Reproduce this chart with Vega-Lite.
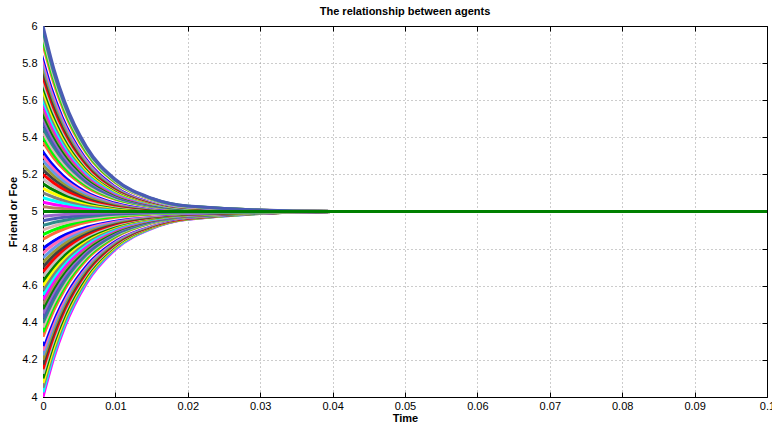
{
"$schema": "https://vega.github.io/schema/vega-lite/v6.json",
"width": 724, "height": 371,
"autosize": {"type": "none"},
"padding": {"left": 43, "top": 26, "right": 5, "bottom": 33},
"background": "white",
"title": {"text": "The relationship between agents", "fontSize": 11, "font": "Liberation Sans", "fontWeight": "bold", "color": "black", "anchor": "middle", "offset": 3},
"config": {"view": {"stroke": null}, "font": "Liberation Sans"},
"layer": [
{
"data": {"values": [
{"c":-40,"t":0,"y":4.0},{"c":-40,"t":0.0015,"y":4.212},{"c":-40,"t":0.003,"y":4.379},{"c":-40,"t":0.006,"y":4.614},{"c":-40,"t":0.01,"y":4.796},{"c":-40,"t":0.015,"y":4.908},{"c":-40,"t":0.02,"y":4.958},{"c":-40,"t":0.04,"y":5},{"c":-40,"t":0.1,"y":5},
{"c":-39,"t":0,"y":4.025},{"c":-39,"t":0.0015,"y":4.232},{"c":-39,"t":0.003,"y":4.394},{"c":-39,"t":0.006,"y":4.624},{"c":-39,"t":0.01,"y":4.801},{"c":-39,"t":0.015,"y":4.910},{"c":-39,"t":0.02,"y":4.959},{"c":-39,"t":0.04,"y":5},{"c":-39,"t":0.1,"y":5},
{"c":-38,"t":0,"y":4.05},{"c":-38,"t":0.0015,"y":4.251},{"c":-38,"t":0.003,"y":4.410},{"c":-38,"t":0.006,"y":4.633},{"c":-38,"t":0.01,"y":4.806},{"c":-38,"t":0.015,"y":4.912},{"c":-38,"t":0.02,"y":4.960},{"c":-38,"t":0.04,"y":5},{"c":-38,"t":0.1,"y":5},
{"c":-37,"t":0,"y":4.075},{"c":-37,"t":0.0015,"y":4.271},{"c":-37,"t":0.003,"y":4.426},{"c":-37,"t":0.006,"y":4.643},{"c":-37,"t":0.01,"y":4.811},{"c":-37,"t":0.015,"y":4.914},{"c":-37,"t":0.02,"y":4.961},{"c":-37,"t":0.04,"y":5},{"c":-37,"t":0.1,"y":5},
{"c":-36,"t":0,"y":4.1},{"c":-36,"t":0.0015,"y":4.291},{"c":-36,"t":0.003,"y":4.441},{"c":-36,"t":0.006,"y":4.653},{"c":-36,"t":0.01,"y":4.816},{"c":-36,"t":0.015,"y":4.917},{"c":-36,"t":0.02,"y":4.962},{"c":-36,"t":0.04,"y":5},{"c":-36,"t":0.1,"y":5},
{"c":-35,"t":0,"y":4.125},{"c":-35,"t":0.0015,"y":4.310},{"c":-35,"t":0.003,"y":4.457},{"c":-35,"t":0.006,"y":4.662},{"c":-35,"t":0.01,"y":4.821},{"c":-35,"t":0.015,"y":4.919},{"c":-35,"t":0.02,"y":4.963},{"c":-35,"t":0.04,"y":5},{"c":-35,"t":0.1,"y":5},
{"c":-34,"t":0,"y":4.15},{"c":-34,"t":0.0015,"y":4.330},{"c":-34,"t":0.003,"y":4.472},{"c":-34,"t":0.006,"y":4.672},{"c":-34,"t":0.01,"y":4.826},{"c":-34,"t":0.015,"y":4.921},{"c":-34,"t":0.02,"y":4.964},{"c":-34,"t":0.04,"y":5},{"c":-34,"t":0.1,"y":5},
{"c":-33,"t":0,"y":4.175},{"c":-33,"t":0.0015,"y":4.350},{"c":-33,"t":0.003,"y":4.488},{"c":-33,"t":0.006,"y":4.682},{"c":-33,"t":0.01,"y":4.831},{"c":-33,"t":0.015,"y":4.924},{"c":-33,"t":0.02,"y":4.966},{"c":-33,"t":0.04,"y":5},{"c":-33,"t":0.1,"y":5},
{"c":-32,"t":0,"y":4.2},{"c":-32,"t":0.0015,"y":4.370},{"c":-32,"t":0.003,"y":4.503},{"c":-32,"t":0.006,"y":4.691},{"c":-32,"t":0.01,"y":4.836},{"c":-32,"t":0.015,"y":4.926},{"c":-32,"t":0.02,"y":4.967},{"c":-32,"t":0.04,"y":5},{"c":-32,"t":0.1,"y":5},
{"c":-31,"t":0,"y":4.225},{"c":-31,"t":0.0015,"y":4.389},{"c":-31,"t":0.003,"y":4.519},{"c":-31,"t":0.006,"y":4.701},{"c":-31,"t":0.01,"y":4.842},{"c":-31,"t":0.015,"y":4.928},{"c":-31,"t":0.02,"y":4.968},{"c":-31,"t":0.04,"y":5},{"c":-31,"t":0.1,"y":5},
{"c":-30,"t":0,"y":4.25},{"c":-30,"t":0.0015,"y":4.409},{"c":-30,"t":0.003,"y":4.534},{"c":-30,"t":0.006,"y":4.711},{"c":-30,"t":0.01,"y":4.847},{"c":-30,"t":0.015,"y":4.931},{"c":-30,"t":0.02,"y":4.969},{"c":-30,"t":0.04,"y":5},{"c":-30,"t":0.1,"y":5},
{"c":-29,"t":0,"y":4.275},{"c":-29,"t":0.0015,"y":4.429},{"c":-29,"t":0.003,"y":4.550},{"c":-29,"t":0.006,"y":4.720},{"c":-29,"t":0.01,"y":4.852},{"c":-29,"t":0.015,"y":4.933},{"c":-29,"t":0.02,"y":4.970},{"c":-29,"t":0.04,"y":5},{"c":-29,"t":0.1,"y":5},
{"c":-28,"t":0,"y":4.3},{"c":-28,"t":0.0015,"y":4.448},{"c":-28,"t":0.003,"y":4.565},{"c":-28,"t":0.006,"y":4.730},{"c":-28,"t":0.01,"y":4.857},{"c":-28,"t":0.015,"y":4.935},{"c":-28,"t":0.02,"y":4.971},{"c":-28,"t":0.04,"y":5},{"c":-28,"t":0.1,"y":5},
{"c":-27,"t":0,"y":4.325},{"c":-27,"t":0.0015,"y":4.468},{"c":-27,"t":0.003,"y":4.581},{"c":-27,"t":0.006,"y":4.740},{"c":-27,"t":0.01,"y":4.862},{"c":-27,"t":0.015,"y":4.938},{"c":-27,"t":0.02,"y":4.972},{"c":-27,"t":0.04,"y":5},{"c":-27,"t":0.1,"y":5},
{"c":-26,"t":0,"y":4.35},{"c":-26,"t":0.0015,"y":4.488},{"c":-26,"t":0.003,"y":4.596},{"c":-26,"t":0.006,"y":4.749},{"c":-26,"t":0.01,"y":4.867},{"c":-26,"t":0.015,"y":4.940},{"c":-26,"t":0.02,"y":4.973},{"c":-26,"t":0.04,"y":5},{"c":-26,"t":0.1,"y":5},
{"c":-25,"t":0,"y":4.375},{"c":-25,"t":0.0015,"y":4.507},{"c":-25,"t":0.003,"y":4.612},{"c":-25,"t":0.006,"y":4.759},{"c":-25,"t":0.01,"y":4.872},{"c":-25,"t":0.015,"y":4.942},{"c":-25,"t":0.02,"y":4.974},{"c":-25,"t":0.04,"y":5},{"c":-25,"t":0.1,"y":5},
{"c":-24,"t":0,"y":4.4},{"c":-24,"t":0.0015,"y":4.527},{"c":-24,"t":0.003,"y":4.627},{"c":-24,"t":0.006,"y":4.769},{"c":-24,"t":0.01,"y":4.877},{"c":-24,"t":0.015,"y":4.945},{"c":-24,"t":0.02,"y":4.975},{"c":-24,"t":0.04,"y":5},{"c":-24,"t":0.1,"y":5},
{"c":-23,"t":0,"y":4.425},{"c":-23,"t":0.0015,"y":4.547},{"c":-23,"t":0.003,"y":4.643},{"c":-23,"t":0.006,"y":4.778},{"c":-23,"t":0.01,"y":4.882},{"c":-23,"t":0.015,"y":4.947},{"c":-23,"t":0.02,"y":4.976},{"c":-23,"t":0.04,"y":5},{"c":-23,"t":0.1,"y":5},
{"c":-22,"t":0,"y":4.45},{"c":-22,"t":0.0015,"y":4.567},{"c":-22,"t":0.003,"y":4.658},{"c":-22,"t":0.006,"y":4.788},{"c":-22,"t":0.01,"y":4.888},{"c":-22,"t":0.015,"y":4.949},{"c":-22,"t":0.02,"y":4.977},{"c":-22,"t":0.04,"y":5},{"c":-22,"t":0.1,"y":5},
{"c":-21,"t":0,"y":4.475},{"c":-21,"t":0.0015,"y":4.586},{"c":-21,"t":0.003,"y":4.674},{"c":-21,"t":0.006,"y":4.797},{"c":-21,"t":0.01,"y":4.893},{"c":-21,"t":0.015,"y":4.951},{"c":-21,"t":0.02,"y":4.978},{"c":-21,"t":0.04,"y":5},{"c":-21,"t":0.1,"y":5},
{"c":-20,"t":0,"y":4.5},{"c":-20,"t":0.0015,"y":4.606},{"c":-20,"t":0.003,"y":4.689},{"c":-20,"t":0.006,"y":4.807},{"c":-20,"t":0.01,"y":4.898},{"c":-20,"t":0.015,"y":4.954},{"c":-20,"t":0.02,"y":4.979},{"c":-20,"t":0.04,"y":5},{"c":-20,"t":0.1,"y":5},
{"c":-19,"t":0,"y":4.525},{"c":-19,"t":0.0015,"y":4.626},{"c":-19,"t":0.003,"y":4.705},{"c":-19,"t":0.006,"y":4.817},{"c":-19,"t":0.01,"y":4.903},{"c":-19,"t":0.015,"y":4.956},{"c":-19,"t":0.02,"y":4.980},{"c":-19,"t":0.04,"y":5},{"c":-19,"t":0.1,"y":5},
{"c":-18,"t":0,"y":4.55},{"c":-18,"t":0.0015,"y":4.645},{"c":-18,"t":0.003,"y":4.721},{"c":-18,"t":0.006,"y":4.826},{"c":-18,"t":0.01,"y":4.908},{"c":-18,"t":0.015,"y":4.958},{"c":-18,"t":0.02,"y":4.981},{"c":-18,"t":0.04,"y":5},{"c":-18,"t":0.1,"y":5},
{"c":-17,"t":0,"y":4.575},{"c":-17,"t":0.0015,"y":4.665},{"c":-17,"t":0.003,"y":4.736},{"c":-17,"t":0.006,"y":4.836},{"c":-17,"t":0.01,"y":4.913},{"c":-17,"t":0.015,"y":4.961},{"c":-17,"t":0.02,"y":4.982},{"c":-17,"t":0.04,"y":5},{"c":-17,"t":0.1,"y":5},
{"c":-16,"t":0,"y":4.6},{"c":-16,"t":0.0015,"y":4.685},{"c":-16,"t":0.003,"y":4.752},{"c":-16,"t":0.006,"y":4.846},{"c":-16,"t":0.01,"y":4.918},{"c":-16,"t":0.015,"y":4.963},{"c":-16,"t":0.02,"y":4.983},{"c":-16,"t":0.04,"y":5},{"c":-16,"t":0.1,"y":5},
{"c":-15,"t":0,"y":4.625},{"c":-15,"t":0.0015,"y":4.704},{"c":-15,"t":0.003,"y":4.767},{"c":-15,"t":0.006,"y":4.855},{"c":-15,"t":0.01,"y":4.923},{"c":-15,"t":0.015,"y":4.965},{"c":-15,"t":0.02,"y":4.984},{"c":-15,"t":0.04,"y":5},{"c":-15,"t":0.1,"y":5},
{"c":-14,"t":0,"y":4.65},{"c":-14,"t":0.0015,"y":4.724},{"c":-14,"t":0.003,"y":4.783},{"c":-14,"t":0.006,"y":4.865},{"c":-14,"t":0.01,"y":4.928},{"c":-14,"t":0.015,"y":4.968},{"c":-14,"t":0.02,"y":4.985},{"c":-14,"t":0.04,"y":5},{"c":-14,"t":0.1,"y":5},
{"c":-13,"t":0,"y":4.675},{"c":-13,"t":0.0015,"y":4.744},{"c":-13,"t":0.003,"y":4.798},{"c":-13,"t":0.006,"y":4.875},{"c":-13,"t":0.01,"y":4.934},{"c":-13,"t":0.015,"y":4.970},{"c":-13,"t":0.02,"y":4.986},{"c":-13,"t":0.04,"y":5},{"c":-13,"t":0.1,"y":5},
{"c":-12,"t":0,"y":4.7},{"c":-12,"t":0.0015,"y":4.764},{"c":-12,"t":0.003,"y":4.814},{"c":-12,"t":0.006,"y":4.884},{"c":-12,"t":0.01,"y":4.939},{"c":-12,"t":0.015,"y":4.972},{"c":-12,"t":0.02,"y":4.987},{"c":-12,"t":0.04,"y":5},{"c":-12,"t":0.1,"y":5},
{"c":-11,"t":0,"y":4.725},{"c":-11,"t":0.0015,"y":4.783},{"c":-11,"t":0.003,"y":4.829},{"c":-11,"t":0.006,"y":4.894},{"c":-11,"t":0.01,"y":4.944},{"c":-11,"t":0.015,"y":4.975},{"c":-11,"t":0.02,"y":4.989},{"c":-11,"t":0.04,"y":5},{"c":-11,"t":0.1,"y":5},
{"c":-10,"t":0,"y":4.75},{"c":-10,"t":0.0015,"y":4.803},{"c":-10,"t":0.003,"y":4.845},{"c":-10,"t":0.006,"y":4.904},{"c":-10,"t":0.01,"y":4.949},{"c":-10,"t":0.015,"y":4.977},{"c":-10,"t":0.02,"y":4.990},{"c":-10,"t":0.04,"y":5},{"c":-10,"t":0.1,"y":5},
{"c":-9,"t":0,"y":4.775},{"c":-9,"t":0.0015,"y":4.823},{"c":-9,"t":0.003,"y":4.860},{"c":-9,"t":0.006,"y":4.913},{"c":-9,"t":0.01,"y":4.954},{"c":-9,"t":0.015,"y":4.979},{"c":-9,"t":0.02,"y":4.991},{"c":-9,"t":0.04,"y":5},{"c":-9,"t":0.1,"y":5},
{"c":-8,"t":0,"y":4.8},{"c":-8,"t":0.0015,"y":4.842},{"c":-8,"t":0.003,"y":4.876},{"c":-8,"t":0.006,"y":4.923},{"c":-8,"t":0.01,"y":4.959},{"c":-8,"t":0.015,"y":4.982},{"c":-8,"t":0.02,"y":4.992},{"c":-8,"t":0.04,"y":5},{"c":-8,"t":0.1,"y":5},
{"c":-7,"t":0,"y":4.825},{"c":-7,"t":0.0015,"y":4.862},{"c":-7,"t":0.003,"y":4.891},{"c":-7,"t":0.006,"y":4.932},{"c":-7,"t":0.01,"y":4.964},{"c":-7,"t":0.015,"y":4.984},{"c":-7,"t":0.02,"y":4.993},{"c":-7,"t":0.04,"y":5},{"c":-7,"t":0.1,"y":5},
{"c":-6,"t":0,"y":4.85},{"c":-6,"t":0.0015,"y":4.882},{"c":-6,"t":0.003,"y":4.907},{"c":-6,"t":0.006,"y":4.942},{"c":-6,"t":0.01,"y":4.969},{"c":-6,"t":0.015,"y":4.986},{"c":-6,"t":0.02,"y":4.994},{"c":-6,"t":0.04,"y":5},{"c":-6,"t":0.1,"y":5},
{"c":-5,"t":0,"y":4.875},{"c":-5,"t":0.0015,"y":4.901},{"c":-5,"t":0.003,"y":4.922},{"c":-5,"t":0.006,"y":4.952},{"c":-5,"t":0.01,"y":4.974},{"c":-5,"t":0.015,"y":4.988},{"c":-5,"t":0.02,"y":4.995},{"c":-5,"t":0.04,"y":5},{"c":-5,"t":0.1,"y":5},
{"c":-4,"t":0,"y":4.9},{"c":-4,"t":0.0015,"y":4.921},{"c":-4,"t":0.003,"y":4.938},{"c":-4,"t":0.006,"y":4.961},{"c":-4,"t":0.01,"y":4.980},{"c":-4,"t":0.015,"y":4.991},{"c":-4,"t":0.02,"y":4.996},{"c":-4,"t":0.04,"y":5},{"c":-4,"t":0.1,"y":5},
{"c":-3,"t":0,"y":4.925},{"c":-3,"t":0.0015,"y":4.941},{"c":-3,"t":0.003,"y":4.953},{"c":-3,"t":0.006,"y":4.971},{"c":-3,"t":0.01,"y":4.985},{"c":-3,"t":0.015,"y":4.993},{"c":-3,"t":0.02,"y":4.997},{"c":-3,"t":0.04,"y":5},{"c":-3,"t":0.1,"y":5},
{"c":-2,"t":0,"y":4.95},{"c":-2,"t":0.0015,"y":4.961},{"c":-2,"t":0.003,"y":4.969},{"c":-2,"t":0.006,"y":4.981},{"c":-2,"t":0.01,"y":4.990},{"c":-2,"t":0.015,"y":4.995},{"c":-2,"t":0.02,"y":4.998},{"c":-2,"t":0.04,"y":5},{"c":-2,"t":0.1,"y":5},
{"c":-1,"t":0,"y":4.975},{"c":-1,"t":0.0015,"y":4.980},{"c":-1,"t":0.003,"y":4.984},{"c":-1,"t":0.006,"y":4.990},{"c":-1,"t":0.01,"y":4.995},{"c":-1,"t":0.015,"y":4.998},{"c":-1,"t":0.02,"y":4.999},{"c":-1,"t":0.04,"y":5},{"c":-1,"t":0.1,"y":5},
{"c":1,"t":0,"y":5.025},{"c":1,"t":0.0015,"y":5.019},{"c":1,"t":0.003,"y":5.015},{"c":1,"t":0.006,"y":5.009},{"c":1,"t":0.01,"y":5.004},{"c":1,"t":0.015,"y":5.002},{"c":1,"t":0.02,"y":5.001},{"c":1,"t":0.04,"y":5},{"c":1,"t":0.1,"y":5},
{"c":2,"t":0,"y":5.05},{"c":2,"t":0.0015,"y":5.038},{"c":2,"t":0.003,"y":5.030},{"c":2,"t":0.006,"y":5.017},{"c":2,"t":0.01,"y":5.009},{"c":2,"t":0.015,"y":5.004},{"c":2,"t":0.02,"y":5.001},{"c":2,"t":0.04,"y":5},{"c":2,"t":0.1,"y":5},
{"c":3,"t":0,"y":5.075},{"c":3,"t":0.0015,"y":5.058},{"c":3,"t":0.003,"y":5.044},{"c":3,"t":0.006,"y":5.026},{"c":3,"t":0.01,"y":5.013},{"c":3,"t":0.015,"y":5.005},{"c":3,"t":0.02,"y":5.002},{"c":3,"t":0.04,"y":5},{"c":3,"t":0.1,"y":5},
{"c":4,"t":0,"y":5.1},{"c":4,"t":0.0015,"y":5.077},{"c":4,"t":0.003,"y":5.059},{"c":4,"t":0.006,"y":5.035},{"c":4,"t":0.01,"y":5.017},{"c":4,"t":0.015,"y":5.007},{"c":4,"t":0.02,"y":5.003},{"c":4,"t":0.04,"y":5},{"c":4,"t":0.1,"y":5},
{"c":5,"t":0,"y":5.125},{"c":5,"t":0.0015,"y":5.096},{"c":5,"t":0.003,"y":5.074},{"c":5,"t":0.006,"y":5.044},{"c":5,"t":0.01,"y":5.022},{"c":5,"t":0.015,"y":5.009},{"c":5,"t":0.02,"y":5.004},{"c":5,"t":0.04,"y":5},{"c":5,"t":0.1,"y":5},
{"c":6,"t":0,"y":5.15},{"c":6,"t":0.0015,"y":5.115},{"c":6,"t":0.003,"y":5.089},{"c":6,"t":0.006,"y":5.052},{"c":6,"t":0.01,"y":5.026},{"c":6,"t":0.015,"y":5.011},{"c":6,"t":0.02,"y":5.004},{"c":6,"t":0.04,"y":5},{"c":6,"t":0.1,"y":5},
{"c":7,"t":0,"y":5.175},{"c":7,"t":0.0015,"y":5.135},{"c":7,"t":0.003,"y":5.103},{"c":7,"t":0.006,"y":5.061},{"c":7,"t":0.01,"y":5.030},{"c":7,"t":0.015,"y":5.013},{"c":7,"t":0.02,"y":5.005},{"c":7,"t":0.04,"y":5},{"c":7,"t":0.1,"y":5},
{"c":8,"t":0,"y":5.2},{"c":8,"t":0.0015,"y":5.154},{"c":8,"t":0.003,"y":5.118},{"c":8,"t":0.006,"y":5.070},{"c":8,"t":0.01,"y":5.035},{"c":8,"t":0.015,"y":5.014},{"c":8,"t":0.02,"y":5.006},{"c":8,"t":0.04,"y":5},{"c":8,"t":0.1,"y":5},
{"c":9,"t":0,"y":5.225},{"c":9,"t":0.0015,"y":5.173},{"c":9,"t":0.003,"y":5.133},{"c":9,"t":0.006,"y":5.079},{"c":9,"t":0.01,"y":5.039},{"c":9,"t":0.015,"y":5.016},{"c":9,"t":0.02,"y":5.007},{"c":9,"t":0.04,"y":5},{"c":9,"t":0.1,"y":5},
{"c":10,"t":0,"y":5.25},{"c":10,"t":0.0015,"y":5.192},{"c":10,"t":0.003,"y":5.148},{"c":10,"t":0.006,"y":5.087},{"c":10,"t":0.01,"y":5.043},{"c":10,"t":0.015,"y":5.018},{"c":10,"t":0.02,"y":5.007},{"c":10,"t":0.04,"y":5},{"c":10,"t":0.1,"y":5},
{"c":11,"t":0,"y":5.275},{"c":11,"t":0.0015,"y":5.211},{"c":11,"t":0.003,"y":5.162},{"c":11,"t":0.006,"y":5.096},{"c":11,"t":0.01,"y":5.048},{"c":11,"t":0.015,"y":5.020},{"c":11,"t":0.02,"y":5.008},{"c":11,"t":0.04,"y":5},{"c":11,"t":0.1,"y":5},
{"c":12,"t":0,"y":5.3},{"c":12,"t":0.0015,"y":5.231},{"c":12,"t":0.003,"y":5.177},{"c":12,"t":0.006,"y":5.105},{"c":12,"t":0.01,"y":5.052},{"c":12,"t":0.015,"y":5.022},{"c":12,"t":0.02,"y":5.009},{"c":12,"t":0.04,"y":5},{"c":12,"t":0.1,"y":5},
{"c":13,"t":0,"y":5.325},{"c":13,"t":0.0015,"y":5.250},{"c":13,"t":0.003,"y":5.192},{"c":13,"t":0.006,"y":5.113},{"c":13,"t":0.01,"y":5.056},{"c":13,"t":0.015,"y":5.023},{"c":13,"t":0.02,"y":5.010},{"c":13,"t":0.04,"y":5},{"c":13,"t":0.1,"y":5},
{"c":14,"t":0,"y":5.35},{"c":14,"t":0.0015,"y":5.269},{"c":14,"t":0.003,"y":5.207},{"c":14,"t":0.006,"y":5.122},{"c":14,"t":0.01,"y":5.061},{"c":14,"t":0.015,"y":5.025},{"c":14,"t":0.02,"y":5.010},{"c":14,"t":0.04,"y":5},{"c":14,"t":0.1,"y":5},
{"c":15,"t":0,"y":5.375},{"c":15,"t":0.0015,"y":5.288},{"c":15,"t":0.003,"y":5.222},{"c":15,"t":0.006,"y":5.131},{"c":15,"t":0.01,"y":5.065},{"c":15,"t":0.015,"y":5.027},{"c":15,"t":0.02,"y":5.011},{"c":15,"t":0.04,"y":5},{"c":15,"t":0.1,"y":5},
{"c":16,"t":0,"y":5.4},{"c":16,"t":0.0015,"y":5.307},{"c":16,"t":0.003,"y":5.236},{"c":16,"t":0.006,"y":5.140},{"c":16,"t":0.01,"y":5.069},{"c":16,"t":0.015,"y":5.029},{"c":16,"t":0.02,"y":5.012},{"c":16,"t":0.04,"y":5},{"c":16,"t":0.1,"y":5},
{"c":17,"t":0,"y":5.425},{"c":17,"t":0.0015,"y":5.327},{"c":17,"t":0.003,"y":5.251},{"c":17,"t":0.006,"y":5.148},{"c":17,"t":0.01,"y":5.074},{"c":17,"t":0.015,"y":5.031},{"c":17,"t":0.02,"y":5.013},{"c":17,"t":0.04,"y":5},{"c":17,"t":0.1,"y":5},
{"c":18,"t":0,"y":5.45},{"c":18,"t":0.0015,"y":5.346},{"c":18,"t":0.003,"y":5.266},{"c":18,"t":0.006,"y":5.157},{"c":18,"t":0.01,"y":5.078},{"c":18,"t":0.015,"y":5.032},{"c":18,"t":0.02,"y":5.013},{"c":18,"t":0.04,"y":5},{"c":18,"t":0.1,"y":5},
{"c":19,"t":0,"y":5.475},{"c":19,"t":0.0015,"y":5.365},{"c":19,"t":0.003,"y":5.281},{"c":19,"t":0.006,"y":5.166},{"c":19,"t":0.01,"y":5.082},{"c":19,"t":0.015,"y":5.034},{"c":19,"t":0.02,"y":5.014},{"c":19,"t":0.04,"y":5},{"c":19,"t":0.1,"y":5},
{"c":20,"t":0,"y":5.5},{"c":20,"t":0.0015,"y":5.384},{"c":20,"t":0.003,"y":5.295},{"c":20,"t":0.006,"y":5.175},{"c":20,"t":0.01,"y":5.087},{"c":20,"t":0.015,"y":5.036},{"c":20,"t":0.02,"y":5.015},{"c":20,"t":0.04,"y":5},{"c":20,"t":0.1,"y":5},
{"c":21,"t":0,"y":5.525},{"c":21,"t":0.0015,"y":5.404},{"c":21,"t":0.003,"y":5.310},{"c":21,"t":0.006,"y":5.183},{"c":21,"t":0.01,"y":5.091},{"c":21,"t":0.015,"y":5.038},{"c":21,"t":0.02,"y":5.016},{"c":21,"t":0.04,"y":5},{"c":21,"t":0.1,"y":5},
{"c":22,"t":0,"y":5.55},{"c":22,"t":0.0015,"y":5.423},{"c":22,"t":0.003,"y":5.325},{"c":22,"t":0.006,"y":5.192},{"c":22,"t":0.01,"y":5.095},{"c":22,"t":0.015,"y":5.040},{"c":22,"t":0.02,"y":5.016},{"c":22,"t":0.04,"y":5},{"c":22,"t":0.1,"y":5},
{"c":23,"t":0,"y":5.575},{"c":23,"t":0.0015,"y":5.442},{"c":23,"t":0.003,"y":5.340},{"c":23,"t":0.006,"y":5.201},{"c":23,"t":0.01,"y":5.099},{"c":23,"t":0.015,"y":5.041},{"c":23,"t":0.02,"y":5.017},{"c":23,"t":0.04,"y":5},{"c":23,"t":0.1,"y":5},
{"c":24,"t":0,"y":5.6},{"c":24,"t":0.0015,"y":5.461},{"c":24,"t":0.003,"y":5.354},{"c":24,"t":0.006,"y":5.209},{"c":24,"t":0.01,"y":5.104},{"c":24,"t":0.015,"y":5.043},{"c":24,"t":0.02,"y":5.018},{"c":24,"t":0.04,"y":5},{"c":24,"t":0.1,"y":5},
{"c":25,"t":0,"y":5.625},{"c":25,"t":0.0015,"y":5.480},{"c":25,"t":0.003,"y":5.369},{"c":25,"t":0.006,"y":5.218},{"c":25,"t":0.01,"y":5.108},{"c":25,"t":0.015,"y":5.045},{"c":25,"t":0.02,"y":5.019},{"c":25,"t":0.04,"y":5},{"c":25,"t":0.1,"y":5},
{"c":26,"t":0,"y":5.65},{"c":26,"t":0.0015,"y":5.500},{"c":26,"t":0.003,"y":5.384},{"c":26,"t":0.006,"y":5.227},{"c":26,"t":0.01,"y":5.112},{"c":26,"t":0.015,"y":5.047},{"c":26,"t":0.02,"y":5.019},{"c":26,"t":0.04,"y":5},{"c":26,"t":0.1,"y":5},
{"c":27,"t":0,"y":5.675},{"c":27,"t":0.0015,"y":5.519},{"c":27,"t":0.003,"y":5.399},{"c":27,"t":0.006,"y":5.236},{"c":27,"t":0.01,"y":5.117},{"c":27,"t":0.015,"y":5.049},{"c":27,"t":0.02,"y":5.020},{"c":27,"t":0.04,"y":5},{"c":27,"t":0.1,"y":5},
{"c":28,"t":0,"y":5.7},{"c":28,"t":0.0015,"y":5.538},{"c":28,"t":0.003,"y":5.414},{"c":28,"t":0.006,"y":5.244},{"c":28,"t":0.01,"y":5.121},{"c":28,"t":0.015,"y":5.050},{"c":28,"t":0.02,"y":5.021},{"c":28,"t":0.04,"y":5},{"c":28,"t":0.1,"y":5},
{"c":29,"t":0,"y":5.725},{"c":29,"t":0.0015,"y":5.557},{"c":29,"t":0.003,"y":5.428},{"c":29,"t":0.006,"y":5.253},{"c":29,"t":0.01,"y":5.125},{"c":29,"t":0.015,"y":5.052},{"c":29,"t":0.02,"y":5.022},{"c":29,"t":0.04,"y":5},{"c":29,"t":0.1,"y":5},
{"c":30,"t":0,"y":5.75},{"c":30,"t":0.0015,"y":5.576},{"c":30,"t":0.003,"y":5.443},{"c":30,"t":0.006,"y":5.262},{"c":30,"t":0.01,"y":5.130},{"c":30,"t":0.015,"y":5.054},{"c":30,"t":0.02,"y":5.022},{"c":30,"t":0.04,"y":5},{"c":30,"t":0.1,"y":5},
{"c":31,"t":0,"y":5.775},{"c":31,"t":0.0015,"y":5.596},{"c":31,"t":0.003,"y":5.458},{"c":31,"t":0.006,"y":5.270},{"c":31,"t":0.01,"y":5.134},{"c":31,"t":0.015,"y":5.056},{"c":31,"t":0.02,"y":5.023},{"c":31,"t":0.04,"y":5},{"c":31,"t":0.1,"y":5},
{"c":32,"t":0,"y":5.8},{"c":32,"t":0.0015,"y":5.615},{"c":32,"t":0.003,"y":5.473},{"c":32,"t":0.006,"y":5.279},{"c":32,"t":0.01,"y":5.138},{"c":32,"t":0.015,"y":5.058},{"c":32,"t":0.02,"y":5.024},{"c":32,"t":0.04,"y":5},{"c":32,"t":0.1,"y":5},
{"c":33,"t":0,"y":5.825},{"c":33,"t":0.0015,"y":5.634},{"c":33,"t":0.003,"y":5.487},{"c":33,"t":0.006,"y":5.288},{"c":33,"t":0.01,"y":5.143},{"c":33,"t":0.015,"y":5.059},{"c":33,"t":0.02,"y":5.025},{"c":33,"t":0.04,"y":5},{"c":33,"t":0.1,"y":5},
{"c":34,"t":0,"y":5.85},{"c":34,"t":0.0015,"y":5.653},{"c":34,"t":0.003,"y":5.502},{"c":34,"t":0.006,"y":5.297},{"c":34,"t":0.01,"y":5.147},{"c":34,"t":0.015,"y":5.061},{"c":34,"t":0.02,"y":5.025},{"c":34,"t":0.04,"y":5},{"c":34,"t":0.1,"y":5},
{"c":35,"t":0,"y":5.875},{"c":35,"t":0.0015,"y":5.673},{"c":35,"t":0.003,"y":5.517},{"c":35,"t":0.006,"y":5.305},{"c":35,"t":0.01,"y":5.151},{"c":35,"t":0.015,"y":5.063},{"c":35,"t":0.02,"y":5.026},{"c":35,"t":0.04,"y":5},{"c":35,"t":0.1,"y":5},
{"c":36,"t":0,"y":5.9},{"c":36,"t":0.0015,"y":5.692},{"c":36,"t":0.003,"y":5.532},{"c":36,"t":0.006,"y":5.314},{"c":36,"t":0.01,"y":5.156},{"c":36,"t":0.015,"y":5.065},{"c":36,"t":0.02,"y":5.027},{"c":36,"t":0.04,"y":5},{"c":36,"t":0.1,"y":5},
{"c":37,"t":0,"y":5.925},{"c":37,"t":0.0015,"y":5.711},{"c":37,"t":0.003,"y":5.546},{"c":37,"t":0.006,"y":5.323},{"c":37,"t":0.01,"y":5.160},{"c":37,"t":0.015,"y":5.067},{"c":37,"t":0.02,"y":5.028},{"c":37,"t":0.04,"y":5},{"c":37,"t":0.1,"y":5},
{"c":38,"t":0,"y":5.95},{"c":38,"t":0.0015,"y":5.730},{"c":38,"t":0.003,"y":5.561},{"c":38,"t":0.006,"y":5.332},{"c":38,"t":0.01,"y":5.164},{"c":38,"t":0.015,"y":5.068},{"c":38,"t":0.02,"y":5.028},{"c":38,"t":0.04,"y":5},{"c":38,"t":0.1,"y":5},
{"c":39,"t":0,"y":5.975},{"c":39,"t":0.0015,"y":5.749},{"c":39,"t":0.003,"y":5.576},{"c":39,"t":0.006,"y":5.340},{"c":39,"t":0.01,"y":5.169},{"c":39,"t":0.015,"y":5.070},{"c":39,"t":0.02,"y":5.029},{"c":39,"t":0.04,"y":5},{"c":39,"t":0.1,"y":5},
{"c":40,"t":0,"y":6.0},{"c":40,"t":0.0015,"y":5.769},{"c":40,"t":0.003,"y":5.591},{"c":40,"t":0.006,"y":5.349},{"c":40,"t":0.01,"y":5.173},{"c":40,"t":0.015,"y":5.072},{"c":40,"t":0.02,"y":5.030},{"c":40,"t":0.04,"y":5},{"c":40,"t":0.1,"y":5},
{"c":0,"t":0,"y":5},{"c":0,"t":0.0015,"y":5},{"c":0,"t":0.003,"y":5},{"c":0,"t":0.006,"y":5},{"c":0,"t":0.01,"y":5},{"c":0,"t":0.015,"y":5},{"c":0,"t":0.02,"y":5},{"c":0,"t":0.04,"y":5},{"c":0,"t":0.1,"y":5}
]},
"mark": {"type": "line", "strokeWidth": 3, "interpolate": "monotone", "clip": true},
"encoding": {
"x": {"field": "t", "type": "quantitative", "scale": {"domain": [0, 0.1], "nice": false, "zero": false},
 "axis": {"values": [0,0.01,0.02,0.03,0.04,0.05,0.06,0.07,0.08,0.09,0.1], "format": "~g", "grid": true, "gridDash": [1,3], "gridColor": "#999999", "gridOpacity": 1, "domainColor": "black", "domainWidth": 1, "tickColor": "black", "tickSize": -5, "labelPadding": 8, "labelFontSize": 11, "labelColor": "black", "labelFont": "Liberation Sans", "labelFlush": false, "title": "Time", "titleFont": "Liberation Sans", "titleFontSize": 11, "titleFontWeight": "bold", "titleColor": "black", "titlePadding": 1}},
"y": {"field": "y", "type": "quantitative", "scale": {"domain": [4, 6], "nice": false, "zero": false},
 "axis": {"values": [4,4.2,4.4,4.6,4.8,5,5.2,5.4,5.6,5.8,6], "format": "~g", "grid": true, "gridDash": [1,3], "gridColor": "#999999", "gridOpacity": 1, "domainColor": "black", "domainWidth": 1, "tickColor": "black", "tickSize": -5, "labelPadding": 11, "labelFontSize": 11, "labelColor": "black", "labelFont": "Liberation Sans", "labelFlush": false, "title": "Friend or Foe", "titleFont": "Liberation Sans", "titleFontSize": 11, "titleFontWeight": "bold", "titleColor": "black", "titlePadding": 3}},
"color": {"field": "c", "type": "nominal", "legend": null, "scale": {"range": ["#ff00ff","#00ffff","#808080","#ffff00","#008000","#c0c0c0","#ff0000","#404040","#999933","#6699e8","#ff69b4","#0000ff","#ffffff","#ff6a3d","#00ff00","#e0b4b4","#2e8b8b","#4b5bb5","#9966cc","#008000","#b08060"]}}
}
},
{
"data": {"values": [{"t": 0, "y": 4}, {"t": 0.1, "y": 6}]},
"mark": {"type": "point", "opacity": 0},
"encoding": {
"x": {"field": "t", "type": "quantitative", "scale": {"domain": [0, 0.1], "nice": false, "zero": false},
 "axis": {"orient": "top", "values": [0,0.01,0.02,0.03,0.04,0.05,0.06,0.07,0.08,0.09,0.1], "labels": false, "grid": false, "title": null, "domainColor": "black", "tickColor": "black", "tickSize": -5}},
"y": {"field": "y", "type": "quantitative", "scale": {"domain": [4, 6], "nice": false, "zero": false},
 "axis": {"orient": "right", "values": [4,4.2,4.4,4.6,4.8,5,5.2,5.4,5.6,5.8,6], "labels": false, "grid": false, "title": null, "domainColor": "black", "tickColor": "black", "tickSize": -5}}
}
}
],
"resolve": {"axis": {"x": "independent", "y": "independent"}}
}
